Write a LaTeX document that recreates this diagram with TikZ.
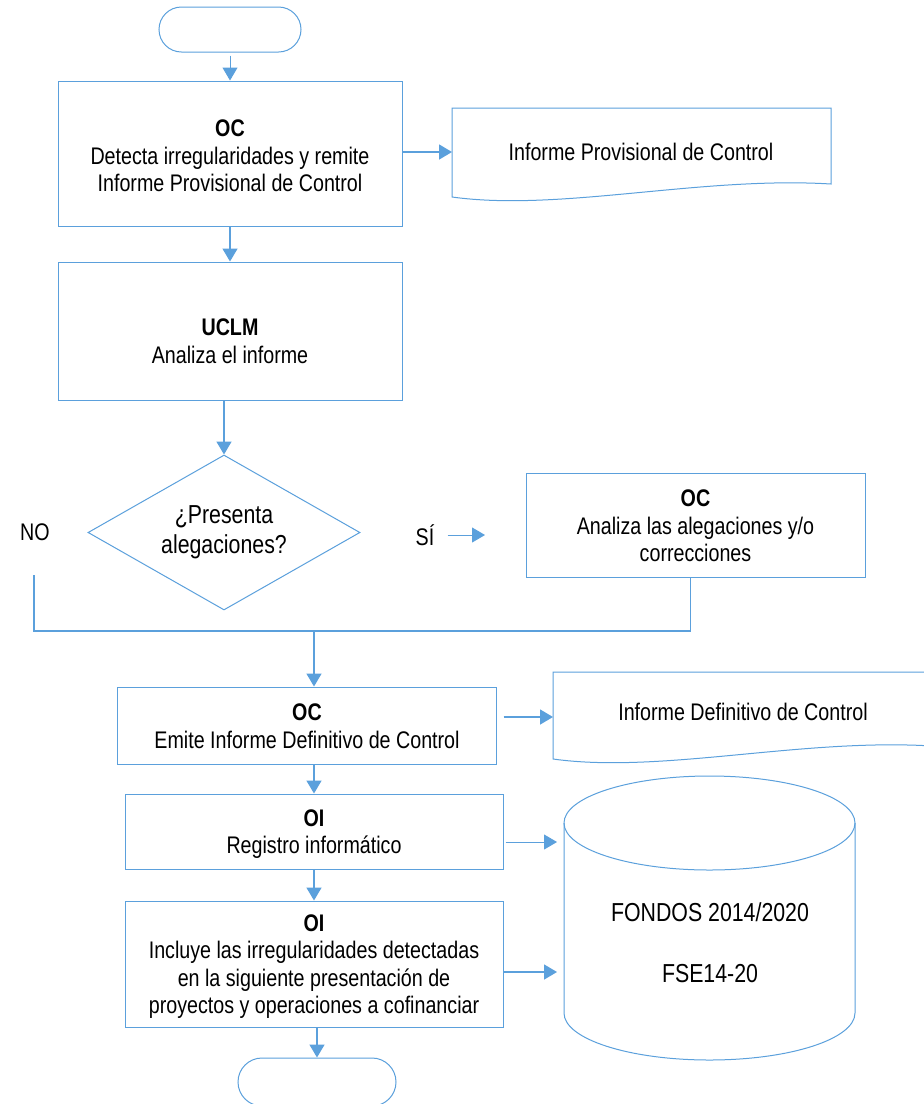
\documentclass[tikz,border=0pt]{standalone}
\usepackage{fontspec}
\setmainfont{Liberation Sans}[FakeStretch=0.82]
\usetikzlibrary{arrows.meta,shapes.geometric}
\definecolor{fc}{RGB}{91,160,220}

\begin{document}
\begin{tikzpicture}[x=1pt,y=-1pt,
  flow/.style={draw=fc, line width=1pt},
  box/.style={flow, rectangle, inner sep=0pt},
  term/.style={flow, rectangle, inner sep=0pt},
  txt/.style={align=center, font=\fontsize{24}{27.5}\selectfont, inner sep=0pt},
  bigtxt/.style={align=center, font=\fontsize{26}{30}\selectfont, inner sep=0pt},
  arr/.style={draw=fc, line width=1.5pt, -{Triangle[length=13pt,width=15pt]}},
  thinarr/.style={arr, line width=0.9pt},
  link/.style={draw=fc, line width=1.6pt},
]
\useasboundingbox (0,0) rectangle (924,1104);
\clip (0,0) rectangle (924,1104);
\fill[white] (0,0) rectangle (924,1104);

% terminals
\node[term, rounded corners=22.5pt, minimum width=142pt, minimum height=45pt] (start) at (230,29.5) {};
\node[term, rounded corners=24pt, minimum width=158pt, minimum height=48pt] (stop) at (317,1082) {};

% process boxes
\node[box, minimum width=344pt, minimum height=145pt] (b1) at (230,153.5) {};
\node[txt] (t1) at (230,156) {\textbf{OC}\\Detecta irregularidades y remite\\Informe Provisional de Control};

\node[box, minimum width=344pt, minimum height=138pt] (b2) at (230,331) {};
\node[txt] (t2) at (230,341) {\textbf{UCLM}\\Analiza el informe};

\node[box, minimum width=339pt, minimum height=104pt] (b3) at (695.5,525) {};
\node[txt] (t3) at (695.5,526) {\textbf{OC}\\Analiza las alegaciones y/o\\correcciones};

\node[box, minimum width=379pt, minimum height=77pt] (b4) at (306.5,725.5) {};
\node[txt] (t4) at (307,726) {\textbf{OC}\\Emite Informe Definitivo de Control};

\node[box, minimum width=378pt, minimum height=75pt] (b5) at (314,831.5) {};
\node[txt] (t5) at (314,834) {\textbf{OI}\\Registro informático};

\node[box, minimum width=378pt, minimum height=126pt] (b6) at (314,964) {};
\node[txt] (t6) at (314,966.5) {\textbf{OI}\\Incluye las irregularidades detectadas\\en la siguiente presentación de\\proyectos y operaciones a cofinanciar};

% decision
\node[flow, diamond, aspect=1.75, inner sep=0pt, minimum width=272pt, minimum height=155pt,
      bigtxt] (dia) at (224,532.5) {¿Presenta\\alegaciones?};
\node[txt] (no) at (35,532) {NO};
\node[txt] (si) at (425,535) {SÍ};

% documents
\coordinate (d1nw) at (452,108);
\draw[flow] (d1nw) -- (831,108) -- (831,184)
  .. controls (700,176) and (560,212) .. (452,197) -- cycle;
\node[txt] (d1t) at (641,152) {Informe Provisional de Control};

\coordinate (d2nw) at (553,672);
\draw[flow] (d2nw) -- (932,672) -- (932,746)
  .. controls (801,738) and (661,774) .. (553,759) -- cycle;
\node[txt] (d2t) at (743,712) {Informe Definitivo de Control};

% database cylinder
\coordinate (cylw) at (564,823);
\draw[flow] (709.5,823) ellipse [x radius=145.5, y radius=47];
\draw[flow] (cylw) -- (564,1013)
  .. controls (564,1039) and (629.1,1060) .. (709.5,1060)
  .. controls (789.9,1060) and (855,1039) .. (855,1013) -- (855,823);
\node[bigtxt] (c1) at (710,912) {FONDOS 2014/2020};
\node[bigtxt] (c2) at (710,974) {FSE14-20};

% connectors
\coordinate (nostart) at (34,575);
\coordinate (merge) at (314,631);
\coordinate (siend) at (485,535);

\draw[arr, line width=1pt] ([yshift=-3pt]start.south) -- (b1.north);
\draw[arr] (b1.east |- 0,152) -- (d1nw |- 0,152);
\draw[arr] (b1.south) -- (b2.north);
\draw[arr] (b2.south -| dia.north) -- (dia.north);
\draw[link] (nostart) |- (merge) -| ([xshift=-5pt]b3.south);
\draw[arr] (merge) -- (merge |- b4.north);
\draw[thinarr] ([xshift=13pt]si.east) -- (siend);
\draw[arr] ([xshift=7pt]b4.east |- 0,717) -- (d2nw |- 0,717);
\draw[arr] (b4.south -| b5.north) -- (b5.north);
\draw[arr] (b5.south) -- (b6.north);
\draw[arr] (b6.south -| stop.north) -- (stop.north);
\draw[thinarr] ([xshift=2pt]b5.east |- 0,842) -- ([xshift=-7pt]cylw |- 0,842);
\draw[arr] (b6.east |- 0,972) -- ([xshift=-7pt]cylw |- 0,972);
\end{tikzpicture}
\end{document}
